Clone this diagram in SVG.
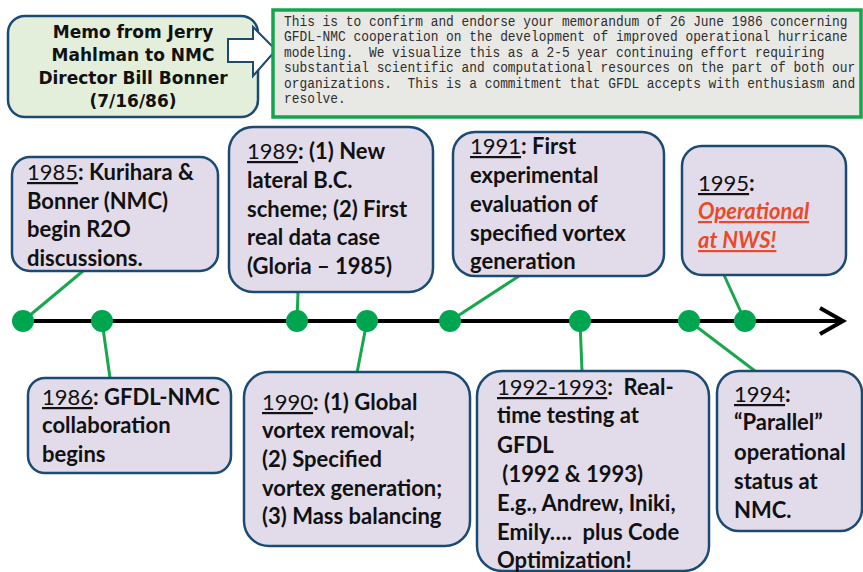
<svg xmlns="http://www.w3.org/2000/svg" width="863" height="572" viewBox="0 0 863 572">
<defs>
<style>
.box{fill:#e2dcea;stroke:#1b4a72;stroke-width:2.5}
.t{font-family:"Lato","Liberation Sans",sans-serif;font-weight:bold;font-size:22px;fill:#111}
.u{text-decoration:underline;font-weight:normal}
.red{fill:#ea4a2a;font-style:italic;text-decoration:underline}
.conn{stroke:#18a84c;stroke-width:3;fill:none}
.dot{fill:#00a550}
.memo{font-family:"Liberation Mono",monospace;font-size:15px;fill:#2e2e2e}
.call{font-family:"DejaVu Sans","Liberation Sans",sans-serif;font-weight:bold;font-size:17px;fill:#111;text-anchor:middle}
</style>
</defs>
<rect width="863" height="572" fill="#ffffff"/>

<g id="memo-callout">
<rect x="8" y="16" width="250" height="101" rx="17" fill="#e3efda" stroke="#1b4a72" stroke-width="2.5"/>
<polygon points="228,39 253,39 253,27 276,50 253,76 253,62 228,62" fill="#ffffff" stroke="#1b4a72" stroke-width="2"/>
<text class="call"><tspan x="133" y="38">Memo from Jerry</tspan><tspan x="133" y="61">Mahlman to NMC</tspan><tspan x="133" y="84">Director Bill Bonner</tspan><tspan x="133" y="107">(7/16/86)</tspan></text>
</g>

<g id="memo-text">
<rect x="273" y="10" width="588" height="107" fill="#e8e8e4" stroke="#12a64c" stroke-width="3.5"/>
<text class="memo" xml:space="preserve" transform="matrix(0.858 0 0 1 284 0)"><tspan x="0" y="26">This is to confirm and endorse your memorandum of 26 June 1986 concerning</tspan><tspan x="0" y="41.5">GFDL-NMC cooperation on the development of improved operational hurricane</tspan><tspan x="0" y="57">modeling.  We visualize this as a 2-5 year continuing effort requiring</tspan><tspan x="0" y="72.5">substantial scientific and computational resources on the part of both our</tspan><tspan x="0" y="88">organizations.  This is a commitment that GFDL accepts with enthusiasm and</tspan><tspan x="0" y="103.5">resolve.</tspan></text>
</g>

<g id="connectors">
<line x1="22" y1="321" x2="840" y2="321" stroke="#000" stroke-width="4"/>
<polyline points="820,308 843,321 820,334" fill="none" stroke="#000" stroke-width="4"/>
<line class="conn" x1="23" y1="321" x2="83" y2="271"/>
<line class="conn" x1="102" y1="321" x2="110" y2="378"/>
<line class="conn" x1="297" y1="321" x2="298" y2="292"/>
<line class="conn" x1="367" y1="321" x2="357" y2="373"/>
<line class="conn" x1="450" y1="321" x2="519" y2="276"/>
<line class="conn" x1="580" y1="321" x2="582" y2="371"/>
<line class="conn" x1="689" y1="321" x2="755" y2="371"/>
<line class="conn" x1="745" y1="321" x2="724" y2="275"/>
<circle class="dot" cx="23" cy="321" r="11"/>
<circle class="dot" cx="102" cy="321" r="11"/>
<circle class="dot" cx="297" cy="321" r="11"/>
<circle class="dot" cx="367" cy="321" r="11"/>
<circle class="dot" cx="450" cy="321" r="11"/>
<circle class="dot" cx="580" cy="321" r="11"/>
<circle class="dot" cx="689" cy="321" r="11"/>
<circle class="dot" cx="745" cy="321" r="11"/>
</g>

<g id="n1985">
<rect class="box" x="12" y="157" width="206" height="114" rx="18"/>
<text class="t"><tspan x="27" y="180"><tspan class="u">1985</tspan>: Kurihara &amp;</tspan><tspan x="27" y="209">Bonner (NMC)</tspan><tspan x="27" y="237">begin R2O</tspan><tspan x="27" y="266">discussions.</tspan></text>
</g>

<g id="n1989">
<rect class="box" x="229" y="127" width="204" height="165" rx="24"/>
<text class="t"><tspan x="247" y="159"><tspan class="u">1989</tspan>: (1) New</tspan><tspan x="247" y="188">lateral B.C.</tspan><tspan x="247" y="217">scheme; (2) First</tspan><tspan x="247" y="245">real data case</tspan><tspan x="247" y="274">(Gloria – 1985)</tspan></text>
</g>

<g id="n1991">
<rect class="box" x="453" y="132" width="211" height="144" rx="22"/>
<text class="t"><tspan x="470" y="154"><tspan class="u">1991</tspan>: First</tspan><tspan x="470" y="183">experimental</tspan><tspan x="470" y="212">evaluation of</tspan><tspan x="470" y="241">specified vortex</tspan><tspan x="470" y="269">generation</tspan></text>
</g>

<g id="n1995">
<rect class="box" x="682" y="146" width="164" height="129" rx="20"/>
<text class="t"><tspan x="698" y="191"><tspan class="u">1995</tspan>:</tspan><tspan x="698" y="219" class="red">Operational</tspan><tspan x="698" y="248" class="red">at NWS!</tspan></text>
</g>

<g id="n1986">
<rect class="box" x="28" y="378" width="203" height="95" rx="17"/>
<text class="t"><tspan x="42" y="405"><tspan class="u">1986</tspan>: GFDL-NMC</tspan><tspan x="42" y="433">collaboration</tspan><tspan x="42" y="462">begins</tspan></text>
</g>

<g id="n1990">
<rect class="box" x="244" y="372" width="226" height="174" rx="25"/>
<text class="t"><tspan x="262" y="410"><tspan class="u">1990</tspan>: (1) Global</tspan><tspan x="262" y="438">vortex removal;</tspan><tspan x="262" y="467">(2) Specified</tspan><tspan x="262" y="496">vortex generation;</tspan><tspan x="262" y="524">(3) Mass balancing</tspan></text>
</g>

<g id="n1992">
<rect class="box" x="477" y="371" width="232" height="200" rx="25"/>
<text class="t" xml:space="preserve"><tspan x="497" y="395"><tspan class="u">1992-1993</tspan>:  Real-</tspan><tspan x="497" y="423">time testing at</tspan><tspan x="497" y="453">GFDL</tspan><tspan x="497" y="482"> (1992 &amp; 1993)</tspan><tspan x="497" y="511">E.g., Andrew, Iniki,</tspan><tspan x="497" y="540">Emily….  plus Code</tspan><tspan x="497" y="568">Optimization!</tspan></text>
</g>

<g id="n1994">
<rect class="box" x="717" y="371" width="145" height="160" rx="22"/>
<text class="t"><tspan x="734" y="402"><tspan class="u">1994</tspan>:</tspan><tspan x="734" y="430">“Parallel”</tspan><tspan x="734" y="460">operational</tspan><tspan x="734" y="489">status at</tspan><tspan x="734" y="518">NMC.</tspan></text>
</g>
</svg>
